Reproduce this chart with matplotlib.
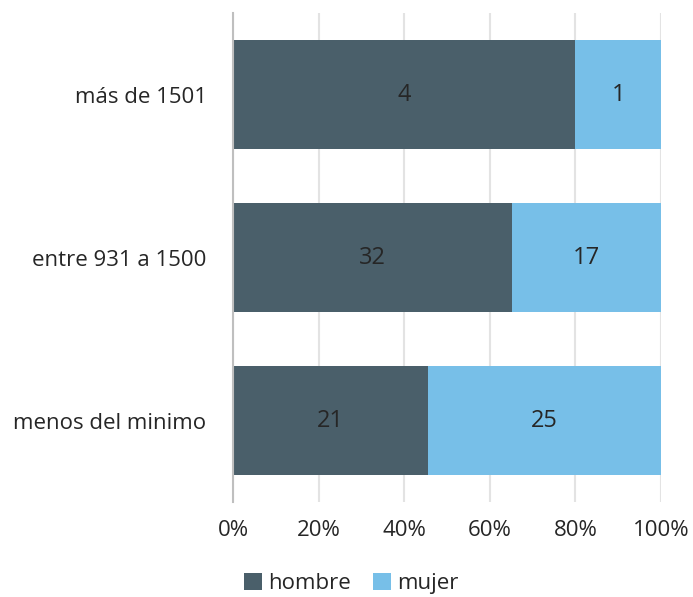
import matplotlib
matplotlib.use('Agg')
import matplotlib.pyplot as plt
import numpy as np

# salario por genero (conteos)
categorias = ['menos del minimo', 'entre 931 a 1500', 'más de 1501']
hombre = [21, 32, 4]
mujer = [25, 17, 1]
ticks = [0, 20, 40, 60, 80, 100]

plt.rcParams['font.family'] = ['Open Sans', 'DejaVu Sans']
FS = 16
TXT = '#262626'

h = np.array(hombre, dtype=float)
m = np.array(mujer, dtype=float)
total = h + m
h_pct = h / total * 100
m_pct = m / total * 100

fig = plt.figure(figsize=(6.93, 5.97), dpi=100)
ax = fig.add_axes([0.3362, 0.1591, 0.6176, 0.819])

y = np.arange(len(categorias))
b1 = ax.barh(y, h_pct, height=0.67, color='#4A5F6A', label='hombre', zorder=2)
b2 = ax.barh(y, m_pct, left=h_pct, height=0.67, color='#77BFE8', label='mujer', zorder=2)

# etiquetas dentro de las barras
for i in range(len(categorias)):
    ax.text(h_pct[i] / 2, y[i], str(hombre[i]), ha='center', va='center', fontsize=FS + 1, color=TXT)
    ax.text(h_pct[i] + m_pct[i] / 2, y[i], str(mujer[i]), ha='center', va='center', fontsize=FS + 1, color=TXT)

ax.set_xlim(0, 100)
ax.set_ylim(-0.5, 2.5)
ax.set_yticks(y)
ax.set_yticklabels(categorias, fontsize=FS, color=TXT)
ax.set_xticks(ticks)
ax.set_xticklabels([str(t) + '%' for t in ticks], fontsize=FS, color=TXT)
ax.tick_params(axis='both', length=0)
ax.tick_params(axis='y', pad=19)
ax.tick_params(axis='x', pad=13)
ax.grid(axis='x', color='#E3E3E3', linewidth=1.5, zorder=0)
for s in ['top', 'right', 'bottom']:
    ax.spines[s].set_visible(False)
ax.spines['left'].set_color('#BFBFBF')
ax.spines['left'].set_linewidth(1.5)

fig.legend(handles=[b1, b2], loc='center', bbox_to_anchor=(0.507, 0.023), ncol=2, frameon=False,
           fontsize=FS, handlelength=0.8, handleheight=0.8, handletextpad=0.3, columnspacing=1.0,
           labelcolor=TXT)

plt.savefig('out.png', dpi=100)
